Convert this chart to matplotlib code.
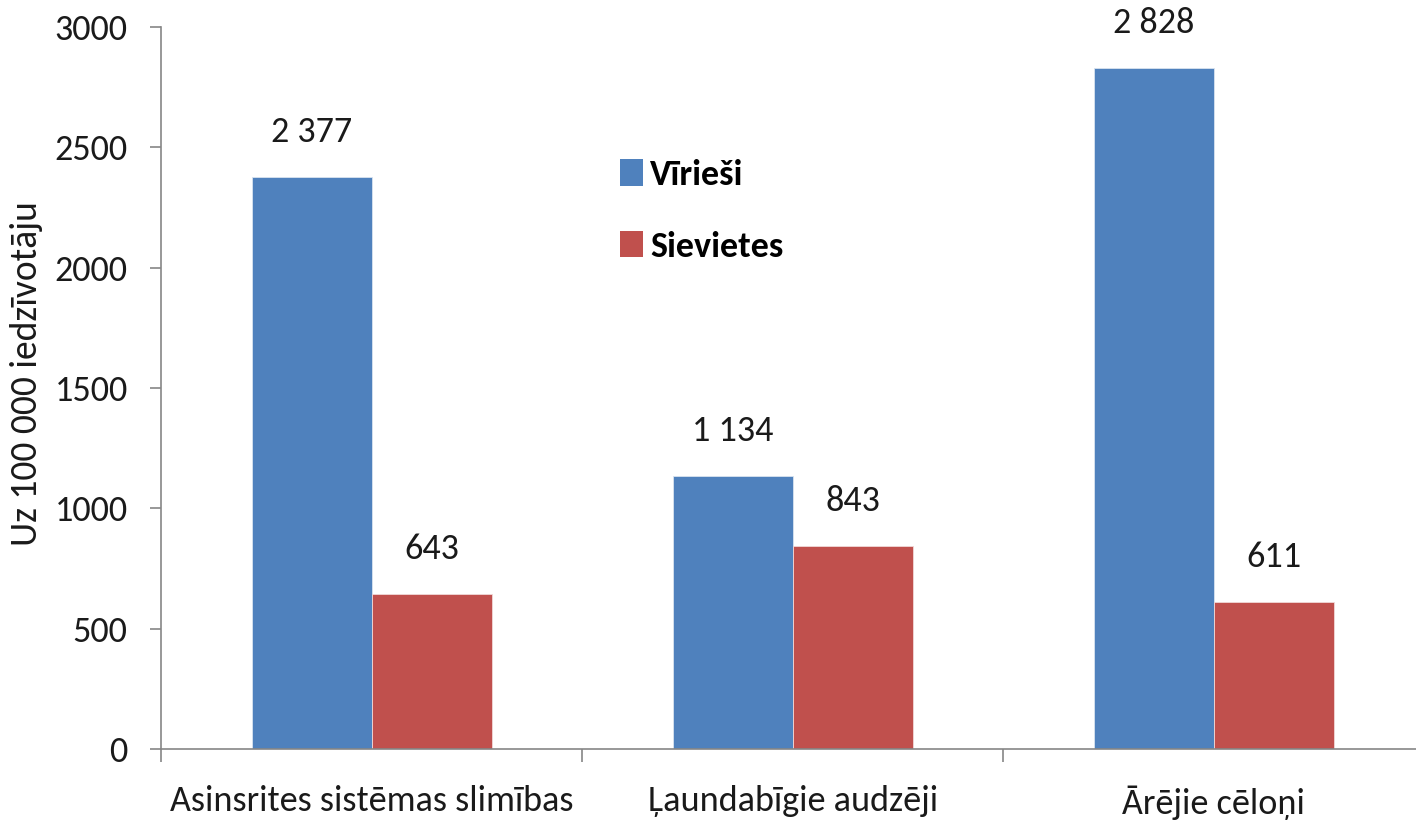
import numpy as np
import matplotlib.pyplot as plt
from matplotlib.patches import Patch

plt.rcParams['font.family'] = ['Carlito', 'DejaVu Sans']

# Datos del grafico
categorias = ['Asinsrites sistēmas slimības', 'Ļaundabīgie audzēji', 'Ārējie cēloņi']
virieši = [2377, 1134, 2828]
sievietes = [643, 843, 611]
series = ['Vīrieši', 'Sievietes']
colores = ['#4F81BD', '#C0504D']

def fmt(v):
  return '{:,}'.format(v).replace(',', ' ')

fig = plt.figure(figsize=(14.16, 8.24), dpi=100)
ax = fig.add_axes([161 / 1416, 75 / 824, 1263.5 / 1416, 722 / 824])

x = np.arange(len(categorias))
ancho = 0.285
b1 = ax.bar(x - ancho / 2, virieši, ancho, color=colores[0], edgecolor='#d9e3f0', linewidth=0.6)
b2 = ax.bar(x + ancho / 2, sievietes, ancho, color=colores[1], edgecolor='#f0d9d8', linewidth=0.6)

ax.bar_label(b1, labels=[fmt(v) for v in virieši], padding=21, fontsize=26, color='#1a1a1a')
ax.bar_label(b2, labels=[fmt(v) for v in sievietes], padding=21, fontsize=26, color='#1a1a1a')

ax.set_xlim(-0.5, len(categorias) - 0.5)
ax.set_ylim(0, 3000)
ax.set_yticks(np.arange(0, 3001, 500))

# ticks mayores en los limites de categoria, etiquetas en los centros
ax.set_xticks(np.arange(-0.5, len(categorias), 1.0))
ax.set_xticklabels([])
ax.set_xticks(x, minor=True)
ax.set_xticklabels(categorias, minor=True)
ax.tick_params(axis='x', which='major', length=9, width=1.2, color='#868686', direction='out')
ax.tick_params(axis='x', which='minor', length=0, pad=26, labelsize=26, labelcolor='#1a1a1a')
ax.tick_params(axis='y', length=8, width=1.2, color='#868686', pad=16, labelsize=26, labelcolor='#1a1a1a')

for s in ['top', 'right']:
  ax.spines[s].set_visible(False)
for s in ['left', 'bottom']:
  ax.spines[s].set_color('#868686')
  ax.spines[s].set_linewidth(1.2)

ax.set_ylabel('Uz 100 000 iedzīvotāju', fontsize=27, color='#1a1a1a')
ax.yaxis.set_label_coords(-0.093, 0.52)

handles = [Patch(facecolor=c, edgecolor='none') for c in colores]
leg = ax.legend(handles, series, loc='upper left', bbox_to_anchor=(0.349, 0.842),
                frameon=False, prop={'weight': 'bold', 'size': 26},
                handlelength=0.65, handleheight=0.75, handletextpad=0.18,
                labelspacing=1.1, borderpad=0)

fig.savefig('out.png', dpi=100)
